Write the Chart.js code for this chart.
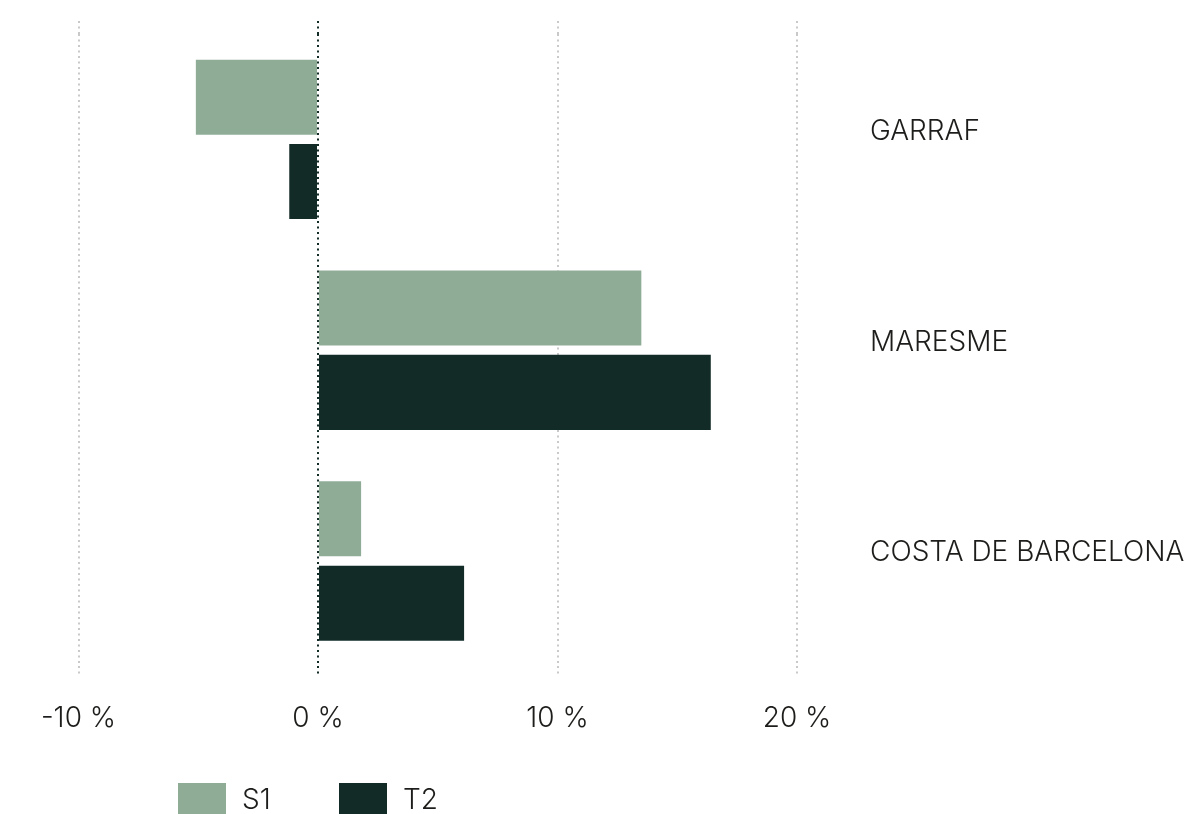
<!DOCTYPE html>
<html>
<head>
<meta charset="utf-8">
<title>S1 / T2</title>
<script src="https://cdn.jsdelivr.net/npm/chart.js@4.4.1/dist/chart.umd.min.js"></script>
<style>
  html, body { margin: 0; padding: 0; background: #fff; }
  #wrap { position: relative; width: 1199px; height: 814px; overflow: hidden; }
  #legend {
    position: absolute; left: 178px; top: 782px;
    display: flex; font-family: Inter, sans-serif; font-weight: 300;
    font-size: 28px; color: #1d1d1b;
  }
  #legend .item { display: flex; align-items: center; width: 161px; }
  #legend .box { width: 48px; height: 32px; margin-right: 16px; }
</style>
</head>
<body>
<div id="wrap">
  <canvas id="chart" width="1199" height="814"></canvas>
  <div id="legend"></div>
</div>
<script>
var categories = ['GARRAF', 'MARESME', 'COSTA DE BARCELONA'];
var seriesNames = ['S1', 'T2'];
var seriesColors = ['#8fac97', '#132b27'];
var s1Values = [-5.1, 13.5, 1.8];
var t2Values = [-1.2, 16.4, 6.1];
var xTicks = [-10, 0, 10, 20];

var textColor = '#1d1d1b';
var fontSpec = { family: 'Inter, sans-serif', size: 28, weight: '300' };
var dots = [2, 3.5];

function gridColor(ctx) {
    return ctx.tick && ctx.tick.value === 0 ? '#132b27' : '#c9c9c9';
}

// only the tick values listed above
function keepTicks(scale) {
    scale.ticks = xTicks.map(function (v) { return { value: v }; });
}

var cfg = {
    type: 'bar',
    data: {
        labels: categories,
        datasets: [
            {
                label: seriesNames[0],
                data: s1Values,
                backgroundColor: seriesColors[0],
                categoryPercentage: 0.8,
                barPercentage: 0.89
            },
            {
                label: seriesNames[1],
                data: t2Values,
                backgroundColor: seriesColors[1],
                categoryPercentage: 0.8,
                barPercentage: 0.89
            }
        ]
    },
    options: {
        indexAxis: 'y',
        responsive: false,
        animation: false,
        layout: { padding: { top: 21, left: 78.5, right: 0, bottom: 53 } },
        plugins: {
            legend: { display: false },
            tooltip: { enabled: false }
        },
        scales: {
            x: {
                position: 'bottom',
                min: xTicks[0],
                max: xTicks[xTicks.length - 1],
                afterBuildTicks: keepTicks,
                ticks: {
                    font: fontSpec,
                    color: textColor,
                    padding: 26,
                    callback: function (v) { return v + ' %'; }
                },
                grid: {
                    color: gridColor,
                    lineWidth: 2,
                    tickLength: 9,
                    tickBorderDash: dots
                },
                border: { display: false, dash: dots }
            },
            // top copy of the x axis, only so the dotted lines run past the bars
            x2: {
                type: 'linear',
                position: 'top',
                min: xTicks[0],
                max: xTicks[xTicks.length - 1],
                afterBuildTicks: keepTicks,
                ticks: { display: false },
                grid: {
                    color: gridColor,
                    lineWidth: 2,
                    tickLength: 13,
                    tickBorderDash: dots,
                    drawOnChartArea: false
                },
                border: { display: false }
            },
            y: {
                position: 'right',
                grid: { display: false, drawTicks: false },
                border: { display: false },
                ticks: {
                    font: fontSpec,
                    color: textColor,
                    padding: 73,
                    labelOffset: -8
                },
                afterFit: function (scale) {
                    scale.width = 402;
                    // the label padding is horizontal here, keep it off the top and bottom
                    scale.paddingTop = 0;
                    scale.paddingBottom = 0;
                }
            }
        }
    }
};

var chart = new Chart(document.getElementById('chart'), cfg);

// legend below the axis labels
var legend = document.getElementById('legend');
chart.data.datasets.forEach(function (ds) {
    var item = document.createElement('div');
    item.className = 'item';
    var box = document.createElement('span');
    box.className = 'box';
    box.style.background = ds.backgroundColor;
    var txt = document.createElement('span');
    txt.textContent = ds.label;
    item.appendChild(box);
    item.appendChild(txt);
    legend.appendChild(item);
});
</script>
</body>
</html>
